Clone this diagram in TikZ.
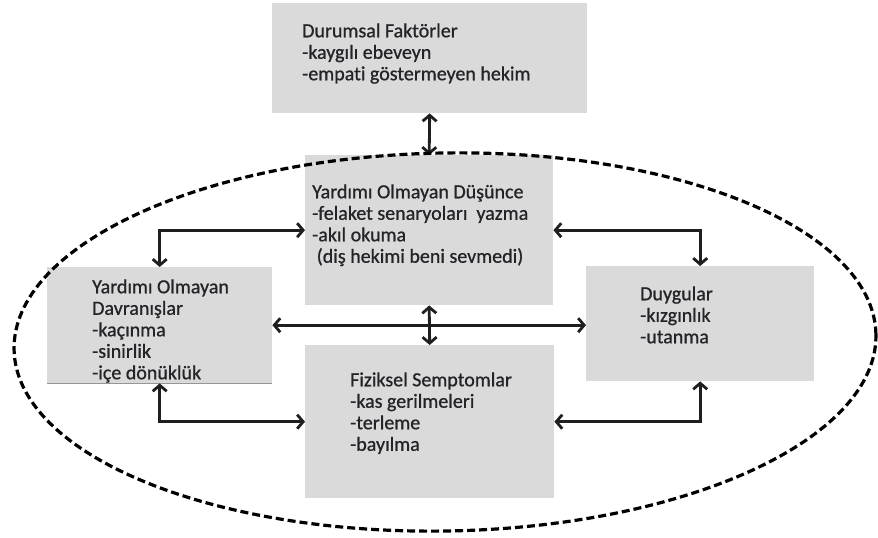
\documentclass[tikz,border=0pt]{standalone}
\usepackage{fontspec}
\setmainfont{Carlito}[Ligatures=NoCommon, FakeBold=0.8]
\usetikzlibrary{arrows.meta}
\definecolor{boxgray}{RGB}{218,218,218}
\definecolor{textgray}{RGB}{35,35,40}
\definecolor{shadowgray}{RGB}{150,150,150}
\tikzset{
  box/.style={rectangle, fill=boxgray, draw=none, anchor=north west, inner sep=0pt},
  txt/.style={anchor=north west, inner sep=0pt, align=left, text=textgray,
    font=\fontsize{20}{21.5}\selectfont},
  arr/.style={line width=2.8pt, draw=black!88, {Straight Barb[length=6pt,width=14pt]}-{Straight Barb[length=6pt,width=14pt]}},
  oval/.style={draw=black, line width=3.2pt, dash pattern=on 8pt off 4pt}
}
\begin{document}
\begin{tikzpicture}[x=1pt,y=-1pt]
\useasboundingbox (0,0) rectangle (878,538);
% boxes
\node[box, minimum width=315pt, minimum height=110pt] (top) at (272,3) {};
\node[box, minimum width=248pt, minimum height=150pt] (th) at (305,155) {};
\node[box, minimum width=225pt, minimum height=116pt] (lb) at (47,267) {};
\node[box, minimum width=228pt, minimum height=115pt] (rb) at (586,266) {};
\node[box, minimum width=249pt, minimum height=153pt] (fz) at (305,345) {};
\draw[shadowgray, line width=1.5pt] (lb.south west) -- (lb.south east);
% texts
\node[txt] (ttop) at (302,22) {\strut Durumsal Faktörler\\-kaygılı ebeveyn\\-empati göstermeyen hekim};
\node[txt] (tth) at (312,183) {\strut Yardımı Olmayan Düşünce\\-felaket senaryoları\ \ yazma\\-akıl okuma\\\ (diş hekimi beni sevmedi)};
\node[txt] (tlb) at (92,278) {\strut Yardımı Olmayan\\Davranışlar\\-kaçınma\\-sinirlik\\-içe dönüklük};
\node[txt] (trb) at (640,285) {\strut Duygular\\-kızgınlık\\-utanma};
\node[txt] (tfz) at (350,371) {\strut Fiziksel Semptomlar\\-kas gerilmeleri\\-terleme\\-bayılma};
% connectors
\draw[arr] (top.south) -- (th.north);
\draw[arr] (th.west) -| (lb.north);
\draw[arr] (th.east) -| (rb.north);
\draw[arr] (lb.east) -- (lb.east -| rb.west);
\draw[arr] (th.south) -- (fz.north);
\draw[arr] (lb.south) |- (fz.west);
\draw[arr] (rb.south) |- (fz.east);
% dashed oval
\coordinate (oc) at (445,342);
\draw[oval, rotate around={1:(oc)}] (oc) ellipse [x radius=431pt, y radius=189pt];
\end{tikzpicture}
\end{document}
